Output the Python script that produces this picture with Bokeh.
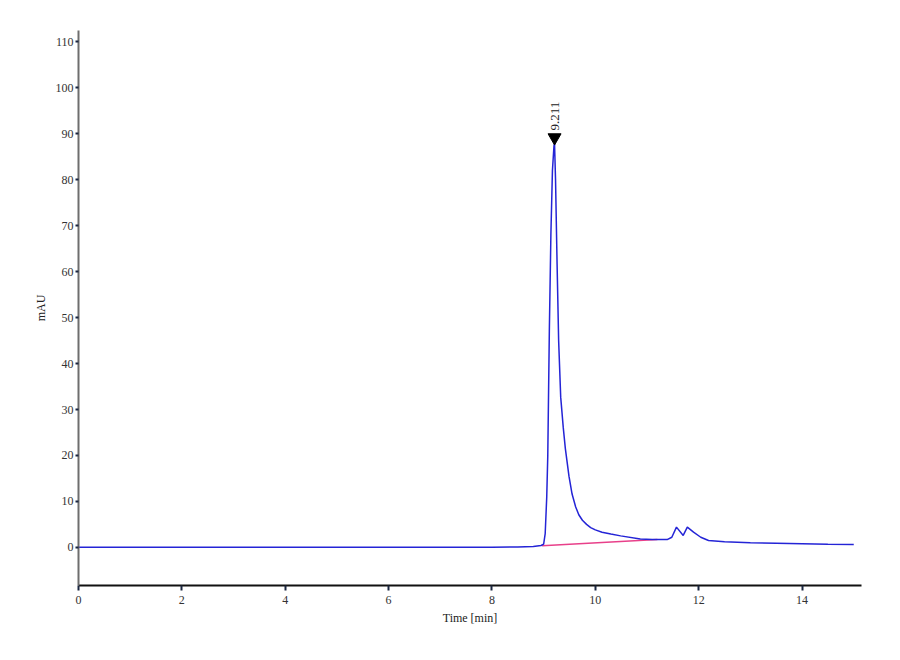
import math
from bokeh.plotting import figure
from bokeh.models import Range1d, FixedTicker, ColumnDataSource
from bokeh.core.properties import value
from bokeh.embed import file_html
from bokeh.resources import INLINE

# Chromatogram trace (time in min, signal in mAU)
time_min = [0, 2, 4, 6, 8, 8.5, 8.8, 8.95, 9.0, 9.03, 9.06, 9.08, 9.11, 9.14, 9.17,
            9.2, 9.211, 9.23, 9.26, 9.29, 9.33, 9.38, 9.42, 9.49, 9.55, 9.62, 9.68,
            9.75, 9.83, 9.91, 10.0, 10.13, 10.3, 10.49, 10.87, 11.1, 11.39, 11.48,
            11.57, 11.7, 11.78, 11.9, 12.04, 12.19, 12.5, 13.0, 13.5, 14.0, 14.5, 15.0]
signal_mau = [0, 0, 0, 0, 0, 0.1, 0.2, 0.4, 0.7, 3.0, 11, 20, 47, 68, 82,
              87.4, 87.8, 80, 61.7, 45, 32.7, 26, 21.5, 15.5, 11.6, 8.8, 7.1,
              5.9, 5.0, 4.3, 3.8, 3.3, 2.9, 2.5, 1.8, 1.7, 1.7, 2.2,
              4.4, 2.6, 4.4, 3.3, 2.2, 1.5, 1.2, 1.0, 0.9, 0.8, 0.7, 0.65]

# Integration baseline under the main peak
base_time = [8.97, 11.2]
base_mau = [0.35, 1.7]

# Peak annotation
peak_time = [9.211]
peak_mau = [89.2]
peak_label = ["9.211"]

x_ticks = [0, 2, 4, 6, 8, 10, 12, 14]
y_ticks = [0, 10, 20, 30, 40, 50, 60, 70, 80, 90, 100, 110]

FONT = "Liberation Serif"

p = figure(width=890, height=650, output_backend="svg", toolbar_location=None,
           x_range=Range1d(0, 15.15), y_range=Range1d(-8.3, 112.5),
           min_border_left=78, min_border_right=29, min_border_top=30,
           min_border_bottom=65)
p.outline_line_color = None
p.xgrid.visible = False
p.ygrid.visible = False
p.background_fill_color = "white"

p.line(base_time, base_mau, line_color="#e8408a", line_width=1.5)
p.line(time_min, signal_mau, line_color="#2424d6", line_width=1.5)

src = ColumnDataSource(dict(x=peak_time, y=peak_mau, t=peak_label))
p.scatter("x", "y", source=src, marker="inverted_triangle", size=13,
          fill_color="black", line_color="black")
p.text("x", "y", text="t", source=src, angle=math.pi / 2,
       x_offset=0, y_offset=-7, text_align="left", text_baseline="middle",
       text_font=value(FONT), text_font_size="13px", text_color="#222222")

p.xaxis.ticker = FixedTicker(ticks=x_ticks)
p.yaxis.ticker = FixedTicker(ticks=y_ticks)
p.xaxis.axis_label = "Time [min]"
p.yaxis.axis_label = "mAU"

for ax in (p.xaxis[0], p.yaxis[0]):
    ax.major_label_text_font = FONT
    ax.major_label_text_font_size = "12px"
    ax.major_label_text_color = "#333333"
    ax.axis_label_text_font = FONT
    ax.axis_label_text_font_size = "12px"
    ax.axis_label_text_font_style = "normal"
    ax.axis_label_text_color = "#222222"
    ax.minor_tick_line_color = None
    ax.major_tick_in = 0
    ax.major_tick_line_color = "#1a2640"
    ax.major_tick_line_width = 2

p.xaxis.axis_line_color = "#111111"
p.xaxis.axis_line_width = 2
p.xaxis.major_tick_out = 5
p.xaxis.major_label_standoff = 5
p.xaxis.axis_label_standoff = 4

p.yaxis.axis_line_color = "#6e6e6e"
p.yaxis.axis_line_width = 2
p.yaxis.major_tick_out = 3
p.yaxis.major_label_standoff = 2
p.yaxis.axis_label_standoff = 5

open("out.html", "w").write(file_html(p, INLINE))
